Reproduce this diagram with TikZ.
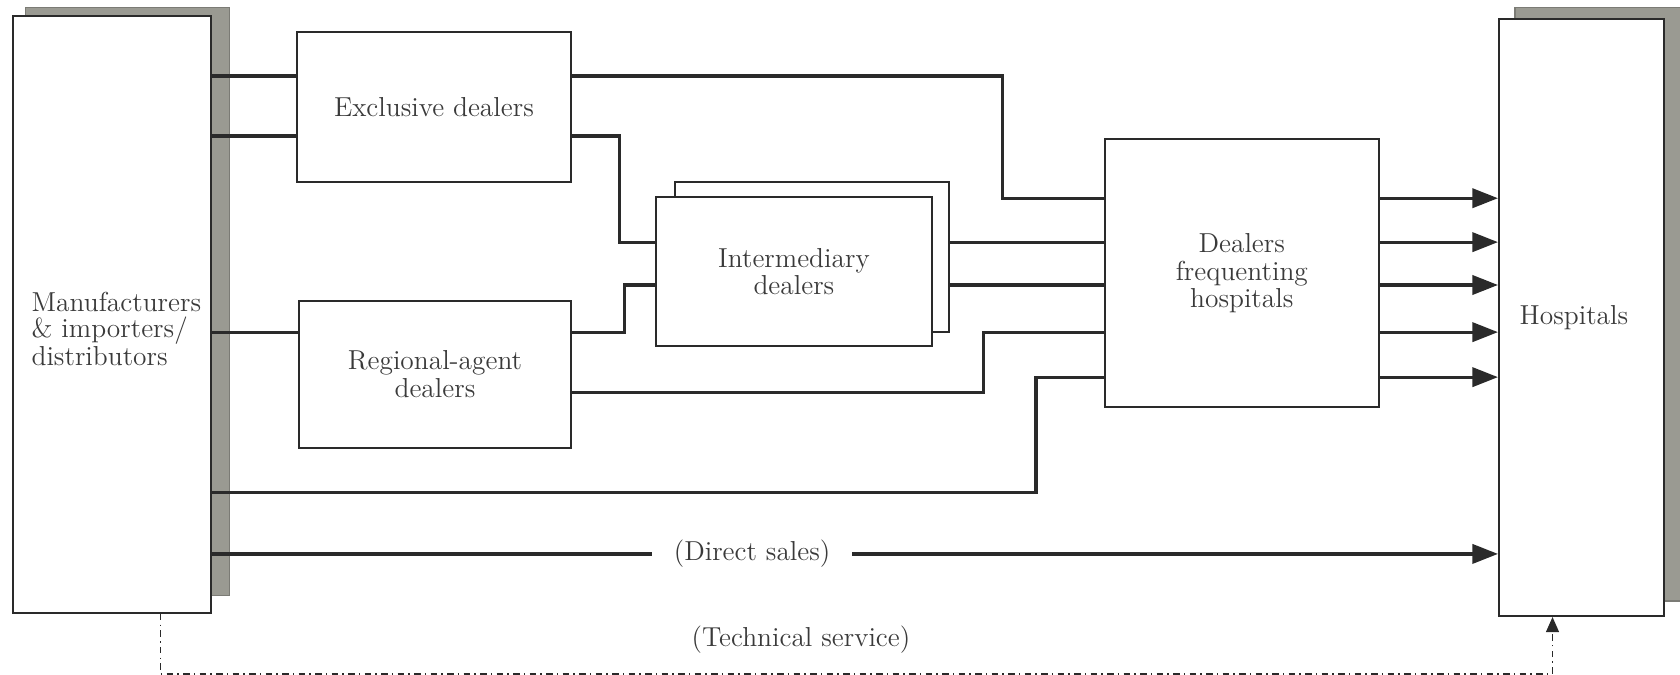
\documentclass[tikz,border=0pt]{standalone}
\usepackage{tikz}
\usetikzlibrary{arrows.meta,positioning,backgrounds,calc}
\definecolor{inkdark}{HTML}{2A2A2A}
\definecolor{inktext}{HTML}{3A3A3A}
\definecolor{shade}{HTML}{9A9A92}

\begin{document}
\begin{tikzpicture}[
  x=0.5pt, y=-0.5pt,
  box/.style={draw=inkdark,line width=0.9pt,fill=white,inner sep=0pt,align=center,
              text=inktext,font=\fontsize{12.8}{13}\selectfont},
  shadow/.style={fill=shade,draw=shade!80!black,line width=0.6pt},
  conn/.style={draw=inkdark,line width=1.5pt},
  arr/.style={conn,-{Triangle[length=12pt,width=9pt]}},
  svc/.style={draw=inkdark,line width=0.7pt,dash dot,-{Triangle[length=7pt,width=6pt]}},
  lbl/.style={text=inktext,font=\fontsize{12.8}{12}\selectfont,inner sep=2pt}
]
\useasboundingbox (0,0) rectangle (1568,630);

\node[box,minimum width=92.5pt,minimum height=278.5pt] (mfr) at (104.5,293.5) {};
\node[lbl,anchor=west,align=left] (mfrtxt) at ([xshift=7pt,yshift=-6.75pt]mfr.west)
  {Manufacturers\\\& importers/\\distributors};
\node[box,minimum width=128pt,minimum height=70pt] (excl) at (405,100) {Exclusive dealers};
\node[box,minimum width=127pt,minimum height=68.5pt] (reg) at (406,349.5) {Regional-agent\\dealers};
\node[box,minimum width=128pt,minimum height=70pt] (interbk) at (758,240) {};
\node[box,minimum width=129pt,minimum height=69.5pt] (inter) at (741,253.5) {Intermediary\\dealers};
\node[box,minimum width=128pt,minimum height=125pt] (dfh) at (1159,255) {Dealers\\frequenting\\hospitals};
\node[box,minimum width=77pt,minimum height=278.5pt] (hosp) at (1476,296.5) {\hspace*{-7pt}Hospitals};
\begin{scope}[on background layer]
  \draw[shadow] ([shift={(13,-7)}]mfr.north west) rectangle ([shift={(16,-17)}]mfr.south east);
  \draw[shadow] ([shift={(16,-10)}]hosp.north west) rectangle ([shift={(15,-15)}]hosp.south east);
\end{scope}

\coordinate (e1) at ([yshift=14.5pt]excl.west);
\coordinate (e2) at ([yshift=-13.5pt]excl.west);
\coordinate (r1) at ([yshift=19.75pt]reg.west);
\coordinate (r2) at ([yshift=-8.25pt]reg.west);
\coordinate (d1) at ([yshift=35pt]dfh.west);
\coordinate (d2) at ([yshift=14.5pt]dfh.west);
\coordinate (d3) at ([yshift=-5.5pt]dfh.west);
\coordinate (d4) at ([yshift=-27.5pt]dfh.west);
\coordinate (d5) at ([yshift=-48.5pt]dfh.west);
\coordinate (m1) at ([yshift=-83.25pt]mfr.east);
\coordinate (m2) at ([yshift=-111.75pt]mfr.east);

\draw[conn] (mfr.east |- e1) -- (e1);
\draw[conn] (mfr.east |- e2) -- (e2);
\draw[conn] (mfr.east |- r1) -- (r1);
\draw[conn] (excl.east |- e1) -- ++(402,0) |- (d1);
\draw[conn] (excl.east |- e2) -- ++(44,0) |- (inter.west |- d2);
\draw[conn] (reg.east |- r1) -- ++(49,0) |- (inter.west |- d3);
\draw[conn] (reg.east |- r2) -- ++(384,0) |- (d4);
\draw[conn] (interbk.east |- d2) -- (d2);
\draw[conn] (interbk.east |- d3) -- (d3);
\draw[conn] (m1) -- ++(769,0) |- (d5);
\foreach \i in {1,...,5}
  \draw[arr] (dfh.east |- d\i) -- (hosp.west |- d\i);
\draw[arr] (m2) -- node[lbl,fill=white,inner xsep=10pt,pos=0.42] (direct) {(Direct sales)} (hosp.west |- m2);
\draw[svc] ([xshift=22.75pt]mfr.south) -- ++(0,56)
  -| node[lbl,pos=0.23,above=7pt] (techsvc) {(Technical service)} ([xshift=-13.5pt]hosp.south);
\end{tikzpicture}
\end{document}
